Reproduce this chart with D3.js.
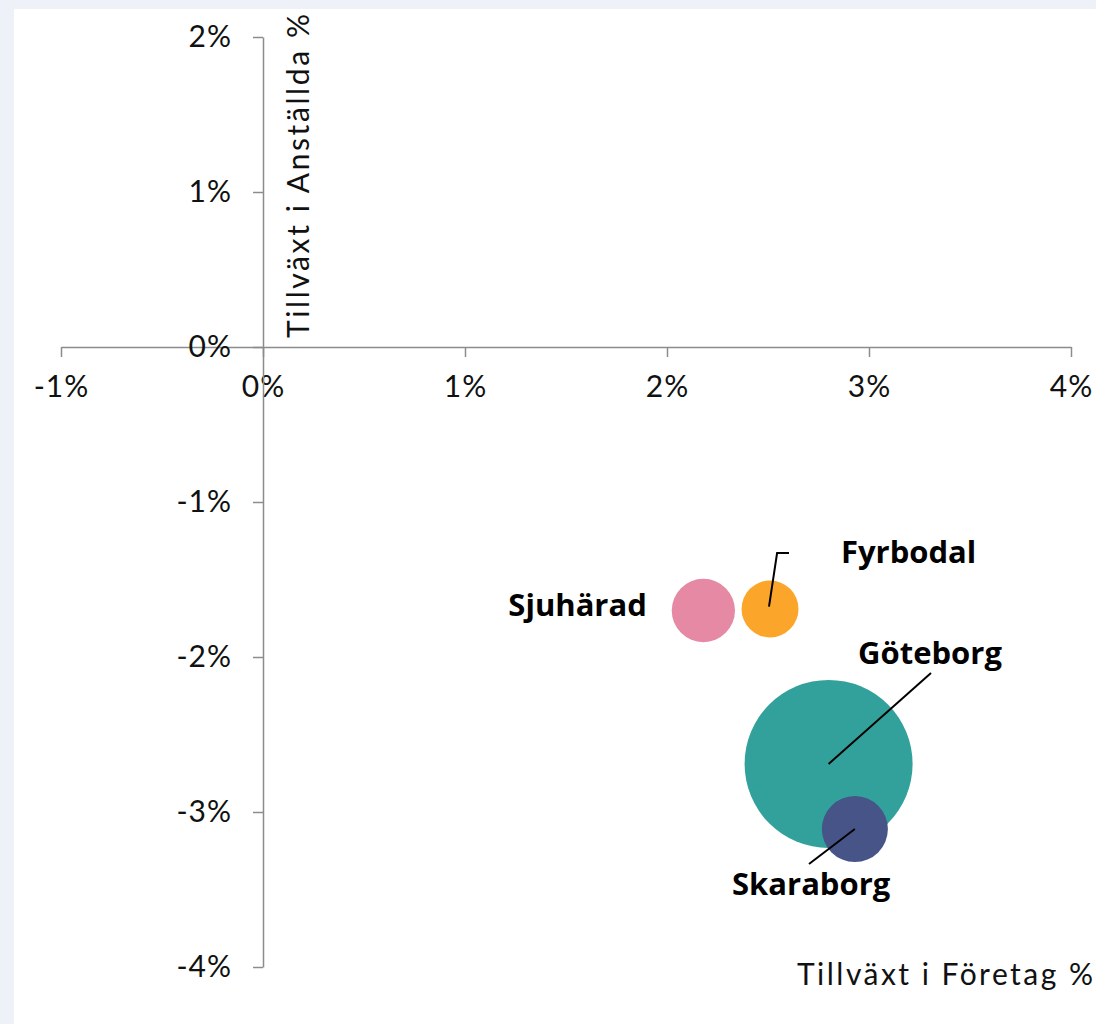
<!DOCTYPE html>
<html><head><meta charset="utf-8">
<script src="https://cdn.jsdelivr.net/npm/d3@7"></script>
<style>
html,body{margin:0;padding:0;background:#eef2f8;}
svg{display:block;}
</style></head>
<body>
<svg id="chart" width="1096" height="1024"></svg>
<script>
// ---- data ----
const regions = ["Sjuhärad", "Fyrbodal", "Göteborg", "Skaraborg"];
const growthCompanies = [2.18, 2.51, 2.80, 2.93];   // x, %
const growthEmployees = [-1.70, -1.69, -2.69, -3.11]; // y, %
const bubbleSize = [1000, 810, 7050, 1090];          // relative size
const colors = ["#e589a4", "#fba62a", "#33a19b", "#475488"];
const xTicks = [-1, 0, 1, 2, 3, 4];
const yTicks = [-4, -3, -2, -1, 0, 1, 2];
// label anchors and leader lines, in data units (%)
const labelPos = [[1.90, -1.735, "end"], [2.861, -1.394, "start"], [2.946, -2.045, "start"], [2.322, -3.535, "start"]];
const leaderPts = [
  null,
  [[2.505, -1.675], [2.545, -1.329], [2.604, -1.329]],
  [[2.80, -2.69], [3.307, -2.103]],
  [[2.93, -3.11], [2.703, -3.335]]
];

const svg = d3.select("#chart");
svg.append("rect").attr("x", 14).attr("y", 9).attr("width", 1082).attr("height", 1015).attr("fill", "#ffffff");

const x = d3.scaleLinear().domain([-1, 4]).range([61, 1071]);
const y = d3.scaleLinear().domain([-4, 2]).range([967, 37]);
const r = d3.scaleSqrt().domain([0, 7050]).range([0, 84]);

const tickFont = "Lato, 'Open Sans', sans-serif";
const fmt = d => d + "%";

const xAxis = svg.append("g").attr("transform", `translate(0,${y(0)})`)
  .call(d3.axisBottom(x).tickValues(xTicks).tickFormat(fmt).tickSizeInner(10).tickSizeOuter(0).tickPadding(19));
const yAxis = svg.append("g").attr("transform", `translate(${x(0)},0)`)
  .call(d3.axisLeft(y).tickValues(yTicks).tickFormat(fmt).tickSizeInner(10).tickSizeOuter(0).tickPadding(21));
[xAxis, yAxis].forEach(g => {
  g.selectAll("path,line").attr("stroke", "#8c8c8c").attr("stroke-width", 1.5);
  g.selectAll("text").attr("fill", "#111").style("font-family", tickFont).style("font-size", "30px")
    .style("font-weight", 400).style("letter-spacing", "1px");
});

// axis titles
svg.append("text").attr("transform", `translate(${x(0) + 46},${y(0) - 9}) rotate(-90)`)
  .attr("text-anchor", "start").style("font-family", tickFont).style("font-size", "30px").attr("fill", "#111")
  .attr("textLength", 324).attr("lengthAdjust", "spacing")
  .text("Tillväxt i Anställda %");
svg.append("text").attr("x", 797).attr("y", 985)
  .attr("text-anchor", "start").style("font-family", tickFont).style("font-size", "30px").attr("fill", "#111")
  .attr("textLength", 296).attr("lengthAdjust", "spacing")
  .text("Tillväxt i Företag %");

// bubbles
const data = regions.map((name, i) => ({name, x: growthCompanies[i], y: growthEmployees[i], s: bubbleSize[i], c: colors[i], lab: labelPos[i], lead: leaderPts[i]}));
svg.append("g").selectAll("circle").data(data).join("circle")
  .attr("cx", d => x(d.x)).attr("cy", d => y(d.y)).attr("r", d => r(d.s)).attr("fill", d => d.c);

// leader lines
const line = d3.line().x(p => x(p[0])).y(p => y(p[1]));
svg.append("g").selectAll("path").data(data.filter(d => d.lead)).join("path")
  .attr("d", d => line(d.lead)).attr("fill", "none").attr("stroke", "#000").attr("stroke-width", 2);

// labels
svg.append("g").selectAll("text").data(data).join("text")
  .attr("x", d => x(d.lab[0])).attr("y", d => y(d.lab[1])).attr("text-anchor", d => d.lab[2])
  .style("font-family", "'Open Sans', 'Noto Sans', sans-serif").style("font-weight", "bold").style("font-size", "31px")
  .attr("fill", "#000").text(d => d.name);
</script>
</body></html>
